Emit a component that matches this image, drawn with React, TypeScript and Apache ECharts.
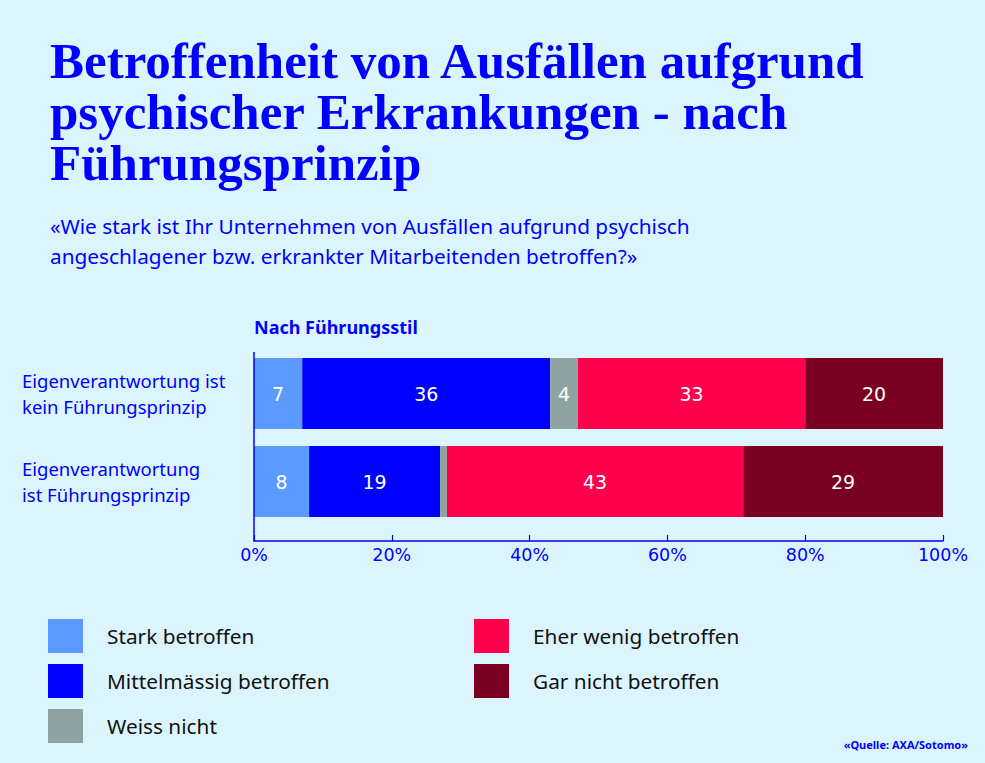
import React, { useEffect, useRef } from "react";
import * as echarts from "echarts";

const categories = [
  "Eigenverantwortung ist\nkein Führungsprinzip",
  "Eigenverantwortung\nist Führungsprinzip",
];
const seriesNames = [
  "Stark betroffen",
  "Mittelmässig betroffen",
  "Weiss nicht",
  "Eher wenig betroffen",
  "Gar nicht betroffen",
];
const stark = [7, 8];
const mittel = [36, 19];
const weissNicht = [4, 1];
const eherWenig = [33, 43];
const garNicht = [20, 29];
const seriesValues = [stark, mittel, weissNicht, eherWenig, garNicht];
const colors = ["#5c9aff", "#0000ff", "#8fa4a2", "#ff004c", "#7a0022"];
const xTickStep = 20;

const titleText = "Betroffenheit von Ausfällen aufgrund\npsychischer Erkrankungen - nach\nFührungsprinzip";
const subtitleText =
  "«Wie stark ist Ihr Unternehmen von Ausfällen aufgrund psychisch\nangeschlagener bzw. erkrankter Mitarbeitenden betroffen?»";
const groupTitle = "Nach Führungsstil";
const sourceText = "«Quelle: AXA/Sotomo»";

const BLUE = "#0000ff";
const BG = "#dcf5fd";

export default function App() {
  const ref = useRef<HTMLDivElement>(null);
  useEffect(() => {
    document.body.style.margin = "0";
    document.body.style.background = BG;
    const chart = echarts.init(ref.current!, null, { renderer: "svg" });
    const legendBase = {
      orient: "vertical" as const,
      top: 619,
      padding: 0,
      itemWidth: 35,
      itemHeight: 34,
      itemGap: 11,
      icon: "rect",
      selectedMode: false,
      textStyle: {
        fontFamily: "Noto Sans",
        fontSize: 20.8,
        color: "#111111",
        padding: [0, 0, 0, 19],
      },
    };
    chart.setOption({
      animation: false,
      backgroundColor: BG,
      color: colors,
      grid: { left: 254, right: 42, top: 349.5, bottom: 237.5, containLabel: false },
      xAxis: {
        type: "value",
        min: 0,
        max: 100,
        interval: xTickStep,
        offset: 15.5,
        axisLine: { show: true, lineStyle: { color: BLUE, width: 1.5 } },
        axisTick: { show: true, inside: true, length: 6, lineStyle: { color: BLUE, width: 1.2 } },
        axisLabel: {
          formatter: "{value}%",
          color: BLUE,
          fontSize: 17.5,
          fontFamily: "DejaVu Sans",
          margin: 5,
        },
        splitLine: { show: false },
      },
      yAxis: {
        type: "category",
        inverse: true,
        data: categories,
        axisLine: { show: false },
        axisTick: { show: false },
        axisLabel: {
          align: "left",
          margin: 232,
          color: BLUE,
          fontSize: 18.5,
          lineHeight: 26,
          fontFamily: "Noto Sans",
        },
      },
      legend: [
        { ...legendBase, left: 48, data: seriesNames.slice(0, 3) },
        { ...legendBase, left: 474, data: seriesNames.slice(3) },
      ],
      series: seriesNames.map((name, i) => ({
        name,
        type: "bar",
        stack: "total",
        barWidth: 71,
        data: seriesValues[i],
        itemStyle: { color: colors[i] },
        label: {
          show: true,
          position: "inside",
          color: "#ffffff",
          fontSize: 19,
          fontFamily: "DejaVu Sans",
          formatter: (p: any) => (p.value >= 3 ? String(p.value) : ""),
        },
      })),
      graphic: [
        {
          type: "text",
          left: 50,
          top: 35.5,
          style: {
            text: titleText,
            fill: BLUE,
            font: "bold 51px 'Liberation Serif'",
            lineHeight: 51,
          },
        },
        {
          type: "text",
          left: 50,
          top: 211,
          style: {
            text: subtitleText,
            fill: BLUE,
            font: "20.8px 'Noto Sans'",
            lineHeight: 30,
          },
        },
        {
          type: "text",
          left: 254,
          top: 317,
          style: {
            text: groupTitle,
            fill: BLUE,
            font: "bold 18px 'Noto Sans'",
            lineHeight: 20,
          },
        },
        {
          type: "line",
          shape: { x1: 254, y1: 352, x2: 254, y2: 541.5 },
          style: { stroke: BLUE, lineWidth: 1.5 },
          z: 10,
        },
        {
          type: "text",
          right: 17,
          top: 737,
          style: {
            text: sourceText,
            fill: BLUE,
            font: "bold 11px 'Noto Sans'",
            lineHeight: 14,
          },
        },
      ],
    });
    return () => chart.dispose();
  }, []);
  return (
    <div
      ref={ref}
      style={{ position: "fixed", left: 0, top: 0, width: 985, height: 763 }}
    />
  );
}
